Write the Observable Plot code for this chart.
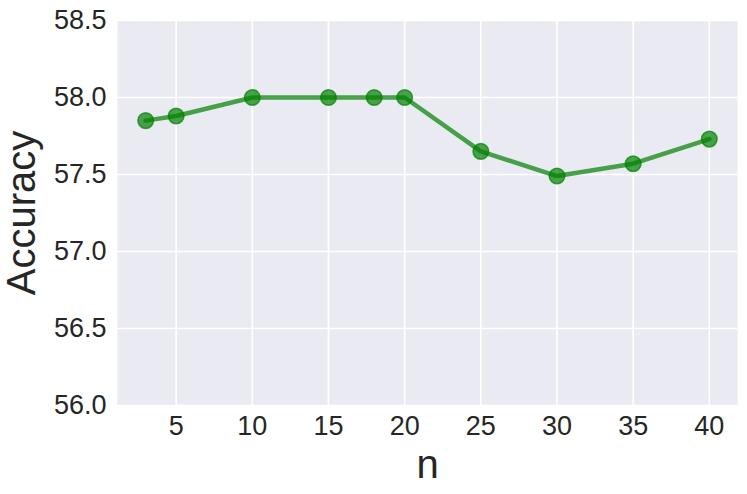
<!DOCTYPE html>
<html>
<head>
<meta charset="utf-8">
<script src="https://cdn.jsdelivr.net/npm/d3@7"></script>
<script src="https://cdn.jsdelivr.net/npm/@observablehq/plot@0.6"></script>
<style>
  html, body { margin: 0; padding: 0; background: #ffffff; }
</style>
</head>
<body>
<div id="chart"></div>
<script>
const nValues = [3, 5, 10, 15, 18, 20, 25, 30, 35, 40];
const accuracy = [57.85, 57.88, 58.0, 58.0, 58.0, 58.0, 57.65, 57.49, 57.57, 57.73];
const xTicks = [5, 10, 15, 20, 25, 30, 35, 40];
const yTicks = [56.0, 56.5, 57.0, 57.5, 58.0, 58.5];

const data = nValues.map((n, i) => ({n, acc: accuracy[i]}));

const chart = Plot.plot({
  width: 747,
  height: 494,
  marginLeft: 117,
  marginRight: 10,
  marginTop: 20,
  marginBottom: 89,
  style: {fontFamily: "'Liberation Sans', Arial, sans-serif", background: "#ffffff", color: "#262626"},
  x: {domain: [1.15, 41.85], label: null},
  y: {domain: [56.0, 58.5], label: null},
  marks: [
    Plot.frame({fill: "#EAEAF2", stroke: null}),
    Plot.gridX(xTicks, {stroke: "#ffffff", strokeOpacity: 1, strokeWidth: 1.6}),
    Plot.gridY(yTicks, {stroke: "#ffffff", strokeOpacity: 1, strokeWidth: 1.6}),
    Plot.axisX({ticks: xTicks, tickSize: 0, tickPadding: 10, fontSize: 27, tickFormat: d => String(d), label: null}),
    Plot.axisY({ticks: yTicks, tickSize: 0, tickPadding: 11, fontSize: 27, tickFormat: d => d.toFixed(1), label: null}),
    Plot.line(data, {x: "n", y: "acc", stroke: "#008000", strokeOpacity: 0.7, strokeWidth: 4.5}),
    Plot.dot(data, {x: "n", y: "acc", r: 7.8, fill: "#008000", fillOpacity: 0.7, stroke: "#008000", strokeOpacity: 0.7, strokeWidth: 1.5}),
    Plot.text(["n"], {frameAnchor: "bottom", dy: 60, fontSize: 40, fill: "#262626", lineAnchor: "middle", textAnchor: "middle"}),
    Plot.text(["Accuracy"], {frameAnchor: "left", dx: -95, rotate: -90, fontSize: 40, fill: "#262626", lineAnchor: "middle", textAnchor: "middle"})
  ]
});
document.getElementById("chart").appendChild(chart);
</script>
</body>
</html>
